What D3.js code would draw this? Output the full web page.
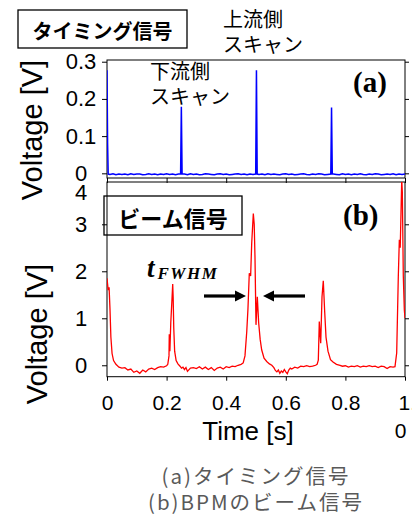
<!DOCTYPE html>
<html>
<head>
<meta charset="utf-8">
<script src="https://cdn.jsdelivr.net/npm/d3@7"></script>
<style>
body { margin:0; background:#fff; }
svg { display:block; }
</style>
</head>
<body>
<svg id="drawing_region"></svg>
<script>
// (a) timing signal
const timing_t = [0, 0.002, 0.004,
    0.01, 0.02, 0.03, 0.04, 0.05, 0.06, 0.07, 0.08, 0.09, 0.10, 0.11, 0.12, 0.13, 0.14, 0.15, 0.16, 0.17, 0.18, 0.19, 0.20, 0.21, 0.22, 0.23, 0.24,
    0.247, 0.2495, 0.252,
    0.26, 0.27, 0.28, 0.29, 0.30, 0.31, 0.32, 0.33, 0.34, 0.35, 0.36, 0.37, 0.38, 0.39, 0.40, 0.41, 0.42, 0.43, 0.44, 0.45, 0.46, 0.47, 0.48, 0.49,
    0.499, 0.5015, 0.504,
    0.51, 0.52, 0.53, 0.54, 0.55, 0.56, 0.57, 0.58, 0.59, 0.60, 0.61, 0.62, 0.63, 0.64, 0.65, 0.66, 0.67, 0.68, 0.69, 0.70, 0.71, 0.72, 0.73, 0.74,
    0.751, 0.7535, 0.756,
    0.76, 0.77, 0.78, 0.79, 0.80, 0.81, 0.82, 0.83, 0.84, 0.85, 0.86, 0.87, 0.88, 0.89, 0.90, 0.91, 0.92, 0.93, 0.94, 0.95, 0.96, 0.97, 0.98, 0.99, 1.00];
const timing_v = [0.277, 0.08, -0.002,
    -0.003, -0.001, -0.004, -0.002, -0.003, -0.002, -0.004, -0.001, -0.003, -0.002, -0.002, -0.004, -0.003, -0.001, -0.003, -0.002, -0.004, -0.002, -0.003, -0.001, -0.003, -0.002, -0.004, -0.002,
    -0.002, 0.179, -0.002,
    -0.002, -0.004, -0.001, -0.003, -0.002, -0.004, -0.003, -0.001, -0.002, -0.003, -0.004, -0.002, -0.001, -0.003, -0.002, -0.004, -0.003, -0.002, -0.001, -0.003, -0.002, -0.004, -0.002, -0.003,
    -0.002, 0.277, -0.002,
    -0.003, -0.002, -0.004, -0.001, -0.003, -0.002, -0.003, -0.004, -0.002, -0.001, -0.003, -0.002, -0.004, -0.003, -0.002, -0.001, -0.003, -0.004, -0.002, -0.003, -0.001, -0.002, -0.004, -0.003,
    -0.002, 0.177, -0.002,
    -0.002, -0.003, -0.004, -0.001, -0.003, -0.002, -0.004, -0.002, -0.003, -0.001, -0.003, -0.004, -0.002, -0.003, -0.001, -0.002, -0.004, -0.003, -0.002, -0.003, -0.001, -0.004, -0.002, -0.003, -0.002];

// (b) beam signal
const beam_t = [0.000, 0.004, 0.007, 0.010, 0.013, 0.017, 0.022, 0.030,
    0.04, 0.05, 0.06, 0.07, 0.08, 0.09, 0.10, 0.11, 0.12, 0.13, 0.14, 0.15, 0.16, 0.17, 0.18, 0.19, 0.20,
    0.204, 0.208, 0.209, 0.211, 0.214, 0.218, 0.2205, 0.222, 0.224, 0.227, 0.232, 0.238,
    0.245, 0.25, 0.255, 0.26, 0.265, 0.27, 0.28, 0.29, 0.30, 0.31, 0.32, 0.33, 0.34, 0.35, 0.36, 0.37, 0.38, 0.39, 0.40, 0.41, 0.42, 0.43, 0.44, 0.45,
    0.457, 0.463, 0.469, 0.473, 0.4775, 0.482, 0.4856, 0.491, 0.494, 0.4966, 0.500, 0.5044, 0.509, 0.514, 0.519, 0.527, 0.536, 0.545, 0.553,
    0.56, 0.565, 0.57, 0.575, 0.58, 0.585, 0.59, 0.595, 0.60, 0.605, 0.61, 0.615, 0.62, 0.63, 0.64, 0.65, 0.66, 0.67, 0.68, 0.69, 0.70, 0.705,
    0.7091, 0.7124, 0.7171, 0.7215, 0.7258, 0.7305, 0.7349, 0.7416, 0.75, 0.7584, 0.77, 0.7819,
    0.79, 0.80, 0.81, 0.82, 0.83, 0.84, 0.85, 0.86, 0.87, 0.88, 0.89, 0.90, 0.91, 0.92, 0.93, 0.94, 0.95, 0.96, 0.9664,
    0.9721, 0.9775, 0.981, 0.984, 0.989, 0.991, 0.9943, 0.9977, 1.000];
const beam_v = [1.85, 1.60, 1.66, 1.20, 0.60, 0.25, 0.10, 0.02,
    -0.04, -0.06, -0.05, -0.10, -0.08, -0.15, -0.12, -0.17, -0.10, -0.14, -0.08, -0.06, -0.09, -0.05, -0.03, -0.04, -0.01,
    0.02, 0.20, 0.66, 0.30, 0.90, 1.40, 1.73, 1.45, 0.80, 0.30, 0.10, 0.03,
    -0.02, -0.06, -0.04, -0.09, -0.05, -0.13, -0.06, -0.05, -0.07, -0.03, -0.08, -0.04, -0.09, -0.05, -0.11, -0.06, -0.04, -0.08, -0.03, -0.05, -0.02, -0.03, 0.00, 0.02,
    0.05, 0.20, 0.72, 1.20, 1.96, 1.90, 2.60, 3.23, 3.00, 2.30, 0.86, 1.46, 0.90, 0.55, 0.33, 0.15, 0.08, 0.03, 0.00,
    -0.05, -0.11, -0.14, -0.10, -0.17, -0.12, -0.15, -0.09, -0.14, -0.18, -0.10, -0.06, -0.08, -0.04, -0.06, -0.02, -0.03, -0.01, -0.03, -0.02, 0.00, 0.02,
    0.11, 0.93, 0.47, 1.46, 1.80, 1.14, 0.60, 0.30, 0.12, 0.07, 0.02, 0.00,
    -0.02, -0.01, -0.04, -0.02, -0.03, -0.01, -0.04, -0.02, -0.03, -0.01, -0.03, -0.02, -0.05, -0.02, -0.03, -0.07, -0.03, -0.04, -0.03,
    0.26, 1.88, 2.67, 2.50, 3.95, 3.70, 1.90, 1.18, 1.00];

const x_ticks = [0, 0.2, 0.4, 0.6, 0.8, 1.0];
const timing_ticks = [0, 0.1, 0.2, 0.3];
const beam_ticks = [0, 1, 2, 3, 4];
const caption_lines = ["(a)タイミング信号", "(b)BPMのビーム信号"];

const W = 412, H = 514;
const sans = "Arial, 'Liberation Sans', sans-serif";
const cjk = "'Noto Sans CJK JP', sans-serif";
const serif = "'Times New Roman', 'Liberation Serif', serif";

const svg = d3.select('#drawing_region')
    .attr('width', W)
    .attr('height', H);

const xscale = d3.scaleLinear().domain([0, 1]).range([107, 405]);
const ya = d3.scaleLinear().domain([-0.0126, 0.3046]).range([178, 60]);
const yb = d3.scaleLinear().domain([-0.243, 3.9]).range([376.7, 182]);

function panel(yscale, ticks, tfmt, id) {
    const [y0, y1] = yscale.range();
    svg.append('clipPath').attr('id', id)
        .append('rect').attr('x', 107).attr('y', y1).attr('width', 298).attr('height', y0 - y1);

    const inDomain = ticks.filter(d => d >= yscale.domain()[0] && d <= yscale.domain()[1]);

    const left = svg.append('g').attr('transform', 'translate(107,0)')
        .call(d3.axisLeft(yscale).tickValues(inDomain).tickFormat(tfmt).tickSize(5).tickSizeOuter(0));
    const right = svg.append('g').attr('transform', 'translate(405,0)')
        .call(d3.axisRight(yscale).tickValues(inDomain).tickFormat('').tickSize(4).tickSizeOuter(0));
    [left, right].forEach(g => g.select('.domain').remove());
    left.selectAll('text')
        .attr('x', -26)
        .attr('text-anchor', 'middle')
        .style('font-family', sans)
        .style('font-size', '22px')
        .attr('fill', '#000');

    svg.append('rect')
        .attr('x', 107).attr('y', y1)
        .attr('width', 298).attr('height', y0 - y1)
        .attr('fill', 'none')
        .attr('stroke', '#000')
        .attr('stroke-width', 1);
    return left;
}

// ---- panel (a)
panel(ya, timing_ticks, d3.format('.1~f'), 'clip-a');
const xa = svg.append('g').attr('transform', 'translate(0,178)')
    .call(d3.axisBottom(xscale).tickValues(x_ticks).tickFormat('').tickSize(5).tickSizeOuter(0));
xa.select('.domain').remove();

const line_a = d3.line().x(d => xscale(d[0])).y(d => ya(d[1]));
svg.append('path')
    .datum(d3.zip(timing_t, timing_v))
    .attr('clip-path', 'url(#clip-a)')
    .attr('d', line_a)
    .attr('fill', 'none')
    .attr('stroke', '#0000ff')
    .attr('stroke-width', 1.5);

// ---- panel (b)
panel(yb, beam_ticks, d3.format('d'), 'clip-b');
// the "4" label sits at the top of the frame
svg.append('text')
    .attr('x', 81).attr('y', yb.range()[1] + 10)
    .attr('text-anchor', 'middle').attr('dominant-baseline', 'central')
    .style('font-family', sans).style('font-size', '22px')
    .text(beam_ticks[beam_ticks.length - 1]);

const xb = svg.append('g').attr('transform', 'translate(0,376.7)')
    .call(d3.axisBottom(xscale).tickValues(x_ticks).tickFormat(d3.format('.1~f')).tickSize(4).tickPadding(14).tickSizeOuter(0));
xb.select('.domain').remove();
xb.selectAll('text')
    .style('font-family', sans)
    .style('font-size', '21px')
    .attr('fill', '#000');
// last label wraps: "1." / "0"
xb.selectAll('.tick').filter(d => d === 1).select('text')
    .text(null)
    .call(t => {
        t.append('tspan').attr('x', -7).attr('text-anchor', 'start').text('1.');
        t.append('tspan').attr('x', -5).attr('dy', '1.35em').attr('text-anchor', 'middle').text('0');
    });

const line_b = d3.line().x(d => xscale(d[0])).y(d => yb(d[1]));
svg.append('path')
    .datum(d3.zip(beam_t, beam_v))
    .attr('clip-path', 'url(#clip-b)')
    .attr('d', line_b)
    .attr('fill', 'none')
    .attr('stroke', '#ff0000')
    .attr('stroke-width', 1.3);

// ---- axis titles
svg.append('text')
    .attr('transform', 'translate(42,130) rotate(-90)')
    .attr('text-anchor', 'middle')
    .style('font-family', sans).style('font-size', '29px')
    .text('Voltage [V]');
svg.append('text')
    .attr('transform', 'translate(47,334) rotate(-90)')
    .attr('text-anchor', 'middle')
    .style('font-family', sans).style('font-size', '29px')
    .text('Voltage [V]');
svg.append('text')
    .attr('x', 248).attr('y', 440)
    .attr('text-anchor', 'middle')
    .style('font-family', sans).style('font-size', '26px')
    .text('Time [s]');

// ---- boxed titles
function boxLabel(x, y, w, h, txt, size) {
    svg.append('rect')
        .attr('x', x).attr('y', y).attr('width', w).attr('height', h)
        .attr('fill', 'none').attr('stroke', '#000').attr('stroke-width', 1.3);
    svg.append('text')
        .attr('x', x + w / 2).attr('y', y + h / 2 + 1)
        .attr('text-anchor', 'middle').attr('dominant-baseline', 'central')
        .style('font-family', cjk).style('font-weight', 'bold').style('font-size', size)
        .text(txt);
}
boxLabel(18, 10, 169, 38, 'タイミング信号', '20px');
boxLabel(104, 196, 138, 39, 'ビーム信号', '22px');

// ---- scan notes
function note(x, yc, lines) {
    lines.forEach((s, i) => {
        svg.append('text')
            .attr('x', x).attr('y', yc + i * 25)
            .attr('dominant-baseline', 'central')
            .style('font-family', cjk).style('font-size', '20px')
            .text(s);
    });
}
note(223, 18, ['上流側', 'スキャン']);
note(150, 70, ['下流側', 'スキャン']);

// ---- panel letters
svg.append('text').attr('x', 353).attr('y', 92)
    .style('font-family', serif).style('font-weight', 'bold').style('font-size', '29px')
    .text('(a)');
svg.append('text').attr('x', 343).attr('y', 225)
    .style('font-family', serif).style('font-weight', 'bold').style('font-size', '29px')
    .text('(b)');

// ---- t_FWHM with arrows
const fw = svg.append('text').attr('x', 147).attr('y', 277)
    .style('font-family', serif).style('font-weight', 'bold').style('font-style', 'italic');
fw.append('tspan').style('font-size', '27px').text('t');
fw.append('tspan').attr('dx', 3).attr('dy', 2).style('font-size', '17px').style('letter-spacing', '1.5px').text('FWHM');

function arrow(xTail, xTip, y) {
    const dir = Math.sign(xTip - xTail);
    const xb = xTip - dir * 11;
    svg.append('line')
        .attr('x1', xTail).attr('y1', y).attr('x2', xb).attr('y2', y)
        .attr('stroke', '#000').attr('stroke-width', 3.2);
    svg.append('path')
        .attr('d', `M${xTip},${y} L${xb},${y - 5.5} L${xb},${y + 5.5} Z`)
        .attr('fill', '#000');
}
arrow(204, 246, 296);
arrow(305, 263, 296);

// ---- caption
caption_lines.forEach((s, i) => {
    svg.append('text')
        .attr('x', 256).attr('y', 475 + i * 26)
        .attr('text-anchor', 'middle').attr('dominant-baseline', 'central')
        .style('font-family', cjk).style('font-size', '20.5px')
        .style('letter-spacing', '2px')
        .attr('fill', '#595959')
        .text(s);
});
</script>
</body>
</html>
